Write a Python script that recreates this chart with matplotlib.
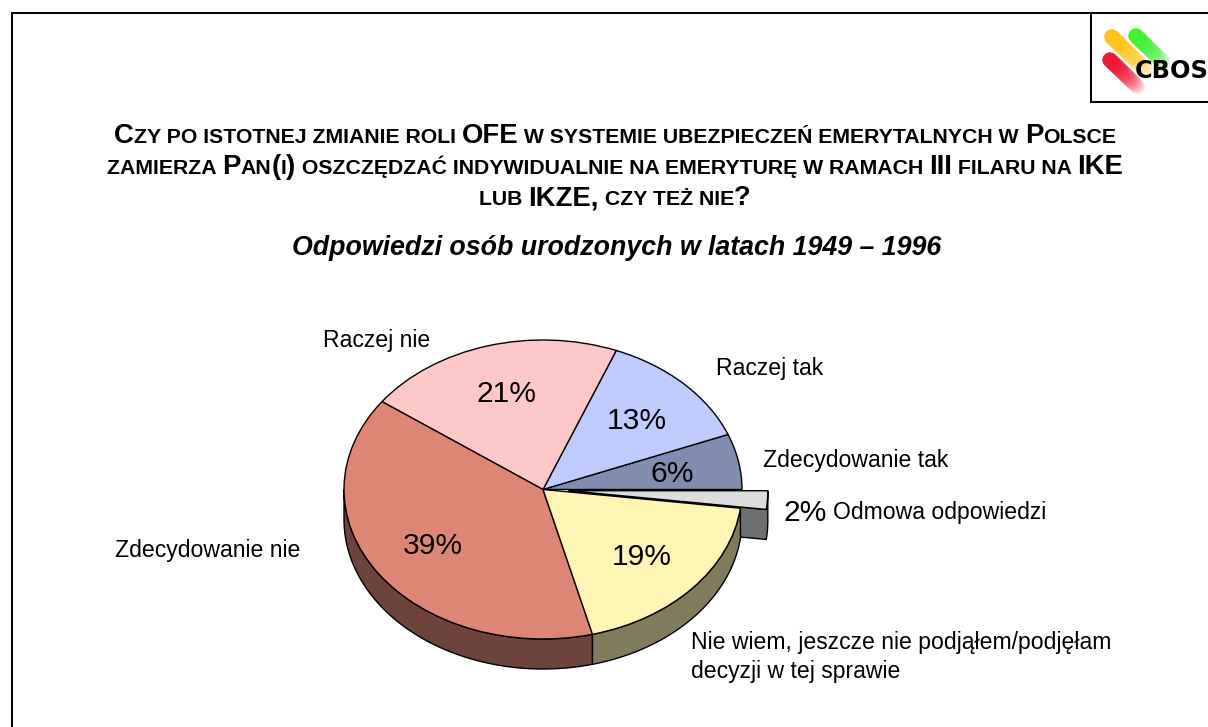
import matplotlib
matplotlib.use("Agg")
import matplotlib.pyplot as plt
import numpy as np
from matplotlib.patches import Polygon

categories = ["Zdecydowanie tak", "Raczej tak", "Raczej nie", "Zdecydowanie nie",
              "Nie wiem, jeszcze nie podjąłem/podjęłam\ndecyzji w tej sprawie", "Odmowa odpowiedzi"]
values = [6, 13, 21, 39, 19, 2]
top_colors = ["#808CB0", "#C0CCFF", "#FFC8C8", "#DE8676", "#FFF6B6", "#DDDDDD"]
side_colors = ["#40465A", "#60667F", "#806464", "#6E433B", "#807B5B", "#6F6F6F"]
explode = [0, 0, 0, 0, 0, 0.13]

title_lines = [
    [("C", 1), ("ZY PO ISTOTNEJ ZMIANIE ROLI ", 0), ("OFE", 1),
     (" W SYSTEMIE UBEZPIECZEŃ EMERYTALNYCH W ", 0), ("P", 1), ("OLSCE", 0)],
    [("ZAMIERZA ", 0), ("P", 1), ("AN", 0), ("(", 1), ("I", 0), (")", 1),
     (" OSZCZĘDZAĆ INDYWIDUALNIE NA EMERYTURĘ W RAMACH ", 0), ("III", 1),
     (" FILARU NA ", 0), ("IKE", 1)],
    [("LUB ", 0), ("IKZE,", 1), (" CZY TEŻ NIE", 0), ("?", 1)],
]
subtitle = "Odpowiedzi osób urodzonych w latach 1949 – 1996"

W, H = 1208, 727
plt.rcParams['font.family'] = ['Liberation Sans', 'DejaVu Sans']


def px(size):
    return size * 72 / 100


fig = plt.figure(figsize=(W / 100, H / 100), dpi=100, facecolor="white")

# pixel layer for frame, titles and labels
page = fig.add_axes([0, 0, 1, 1], zorder=5)
page.set_xlim(0, W)
page.set_ylim(H, 0)
page.axis("off")
page.patch.set_alpha(0)

# pie axes, squashed so the circle is an ellipse
cx, cy, rx, ry = 543, 489.5, 199, 149.5
depth = 30 / ry
span = 1.5
ax = fig.add_axes([(cx - span * rx) / W, (H - cy - span * ry) / H, 2 * span * rx / W, 2 * span * ry / H])
wedges, _ = ax.pie(values, startangle=0, colors=top_colors, explode=explode, radius=1,
                   wedgeprops={"edgecolor": "black", "linewidth": 1.0})
ax.set_aspect("auto")
ax.set_xlim(-span, span)
ax.set_ylim(-span, span)
for w in wedges:
    w.set_zorder(3)

# side walls from the slice angles
edges = np.concatenate([[0], np.cumsum(values)]) * 3.6
for i, w in enumerate(wedges):
    a0, a1 = edges[i], edges[i + 1]
    ox, oy = w.center
    lo, hi = max(a0, 180), min(a1, 360)
    if hi <= lo:
        continue
    t = np.radians(np.linspace(lo, hi, 80))
    xs = ox + np.cos(t)
    ys = oy + np.sin(t)
    pts = list(zip(xs, ys)) + list(zip(xs[::-1], ys[::-1] - depth))
    if explode[i] > 0:
        # inner cut face of the pulled out slice
        pts = [(ox, oy), (ox, oy - depth)] + list(zip(xs, ys - depth)) + list(zip(xs[::-1], ys[::-1]))
    ax.add_patch(Polygon(pts, closed=True, facecolor=side_colors[i], edgecolor="black",
                         linewidth=1.0, zorder=1 if explode[i] > 0 else 2))

# frame and logo box
frame_color = "black"
page.plot([12, 12, W], [H, 13, 13], color=frame_color, lw=px(2), solid_joinstyle="miter")
page.plot([1091, 1091, W], [13, 102, 102], color=frame_color, lw=px(2), solid_joinstyle="miter")

# logo: fading capsules
logo_bars = [((1112, 37), (1148, 72), "#FFC400"), ((1136, 36), (1164, 63), "#30F020"), ((1110, 60), (1138, 87), "#F00020")]
for (x0, y0), (x1, y1), col in logo_bars:
    for f in np.linspace(1, 0, 40):
        page.plot([x0, x0 + (x1 - x0) * f], [y0, y0 + (y1 - y0) * f], color=col,
                  alpha=0.05, lw=px(15), solid_capstyle="round")
page.text(1135, 71, "CBOS", fontsize=px(24), fontweight="bold", family=["DejaVu Sans"],
          va="center", ha="left", color="black")

# small caps title, run by run
big, small = px(27.5), px(21.3)
renderer = fig.canvas.get_renderer()


def run_width(s, size):
    probe = page.text(0, 0, s + "|", fontsize=size, fontweight="bold")
    bar = page.text(0, 0, "|", fontsize=size, fontweight="bold")
    wd = probe.get_window_extent(renderer).width - bar.get_window_extent(renderer).width
    probe.remove()
    bar.remove()
    return wd


title_center = 615
baselines = [143, 174, 205]
for runs, base in zip(title_lines, baselines):
    widths = [run_width(s, big if b else small) for s, b in runs]
    x = title_center - sum(widths) / 2
    for (s, b), wd in zip(runs, widths):
        page.text(x, base, s, fontsize=big if b else small, fontweight="bold", va="baseline", ha="left")
        x += wd

page.text(616.5, 248, subtitle, fontsize=px(26.7), fontweight="bold", fontstyle="italic", ha="center", va="center")

# percentages
pct_pos = [(672, 474), (637, 421), (506, 394), (433, 546), (642, 557), (805, 513)]
for v, (x, y) in zip(values, pct_pos):
    page.text(x, y, f"{v}%", fontsize=px(30), ha="center", va="center", color="black")

# slice names
name_pos = [(763, 461), (716, 368), (323, 341), (115, 550), (691, 657), (833, 513)]
for name, (x, y) in zip(categories, name_pos):
    page.text(x, y, name, fontsize=px(23), ha="left", va="center", color="black", linespacing=1.3)

fig.savefig("out.png", dpi=100)
